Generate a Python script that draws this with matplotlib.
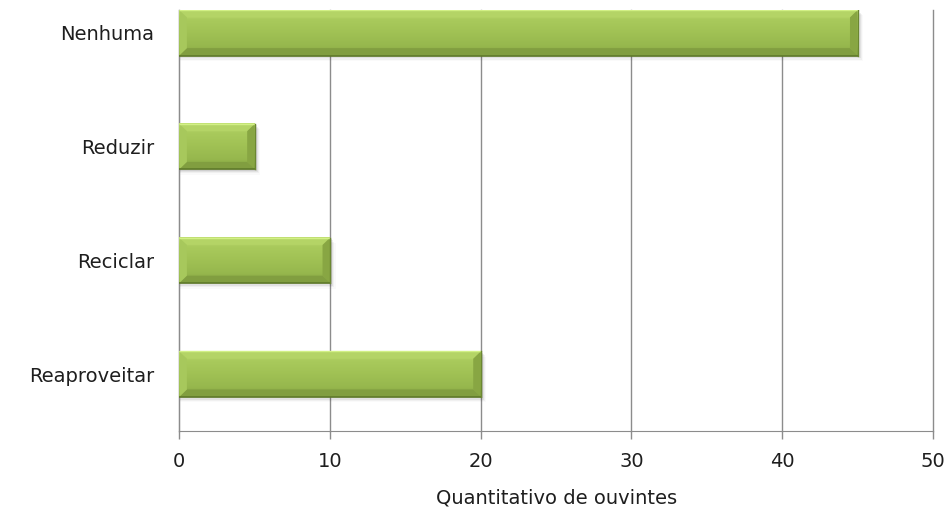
import matplotlib.pyplot as plt
import numpy as np
from matplotlib.patches import Polygon, Rectangle
from matplotlib.colors import to_rgb

categorias = ["Reaproveitar", "Reciclar", "Reduzir", "Nenhuma"]
ouvintes = [20, 10, 5, 45]
ticks_x = [0, 10, 20, 30, 40, 50]

plt.rcParams['font.family'] = ['DejaVu Sans']

fig = plt.figure(figsize=(9.49, 5.14), dpi=100)
ax = fig.add_axes([0.189, 0.1615, 0.794, 0.819])

altura = 0.40
bx = 0.5    # bevel width (x data units)
by = 0.065  # bevel height (y data units)

def vgrad(ax, x0, x1, y0, y1, cores, pos, z):
    t = np.linspace(0, 1, 40)
    st = np.array([to_rgb(c) for c in cores])
    col = np.stack([np.interp(t, pos, st[:, c]) for c in range(3)], axis=1)
    ax.imshow(col[:, None, :], extent=(x0, x1, y0, y1), aspect='auto', origin='upper',
              interpolation='bilinear', zorder=z)

def barra(ax, y, w):
    y0, y1 = y - altura / 2, y + altura / 2
    # soft shadow
    for k, a in enumerate([0.08, 0.06, 0.04, 0.02]):
        d = 0.012 * (k + 1)
        ax.add_patch(Rectangle((0.05, y0 - d), w + 0.08 * (k + 1), altura, color='#000000',
                               alpha=a, lw=0, zorder=2))
    # body
    vgrad(ax, 0, w, y0, y1, ['#c4e276', '#a9ca5c', '#a0c154', '#96b74d', '#7f9d3f'],
          [0.0, 0.2, 0.5, 0.8, 1.0], 3)
    # bevels
    topo = Polygon([(0, y1), (w, y1), (w - bx, y1 - by), (bx, y1 - by)], closed=True,
                   color='#b4d466', lw=0, zorder=4)
    base = Polygon([(0, y0), (w, y0), (w - bx, y0 + by), (bx, y0 + by)], closed=True,
                   color='#819e40', lw=0, zorder=4)
    esq = Polygon([(0, y0), (bx, y0 + by), (bx, y1 - by), (0, y1)], closed=True,
                  color='#a7c85c', lw=0, zorder=4)
    dir_ = Polygon([(w, y0), (w - bx, y0 + by), (w - bx, y1 - by), (w, y1)], closed=True,
                   color='#88a643', lw=0, zorder=4)
    for p in (topo, base, esq, dir_):
        ax.add_patch(p)
    ax.plot([0, w], [y1, y1], color='#d2f086', lw=1.0, zorder=5, solid_capstyle='butt')
    ax.plot([0, w], [y0, y0], color='#5f7a2a', lw=1.2, zorder=5, solid_capstyle='butt')
    ax.plot([w, w], [y0, y1], color='#6b8731', lw=1.0, zorder=5)

ypos = np.arange(len(categorias))
for y, v in zip(ypos, ouvintes):
    barra(ax, y, v)

ax.set_xlim(0, 50)
ax.set_ylim(-0.5, 3.2)
ax.set_xticks(ticks_x)
ax.set_xticklabels([str(t) for t in ticks_x], fontsize=14, color='#1e1e1e')
ax.set_yticks(ypos)
ax.set_yticklabels(categorias, fontsize=14, color='#1e1e1e')
ax.tick_params(axis='y', length=0, pad=18)
ax.tick_params(axis='x', length=6, width=1, color='#8c8c8c', pad=9)
ax.grid(axis='x', color='#8c8c8c', lw=1, zorder=1)
for gl in ax.get_xgridlines():
    gl.set_clip_on(False)
ax.set_axisbelow(True)
for s in ['top', 'right']:
    ax.spines[s].set_visible(False)
ax.spines['left'].set_color('#8c8c8c')
ax.spines['bottom'].set_color('#8c8c8c')
ax.set_xlabel('Quantitativo de ouvintes', fontsize=14, color='#1e1e1e', labelpad=13)

fig.savefig('out.png', dpi=100)
